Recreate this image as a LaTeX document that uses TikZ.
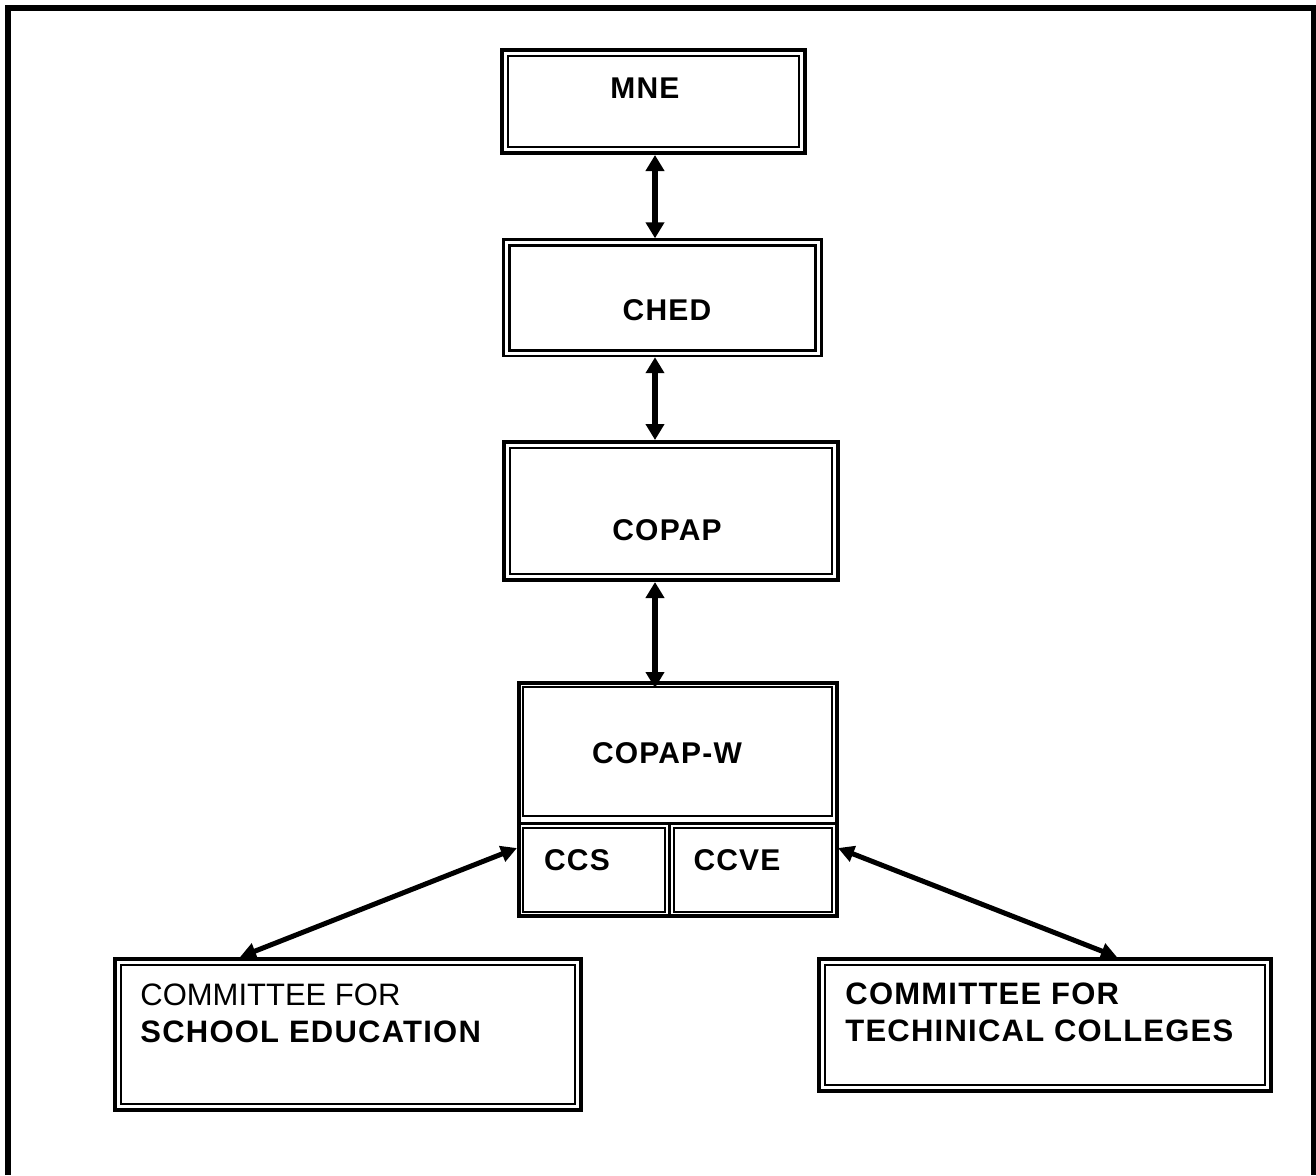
\documentclass[tikz,border=0pt]{standalone}
\usepackage{fontspec}
\setmainfont{Liberation Sans}[BoldFeatures={LetterSpace=4}]
\usetikzlibrary{arrows.meta}
\tikzset{
  thickthin/.style={draw,line width=2pt,inner sep=0pt,
    path picture={\draw[line width=1pt]
      ([shift={(2.9pt,-2.9pt)}]path picture bounding box.north west) rectangle
      ([shift={(-2.9pt,2.9pt)}]path picture bounding box.south east);}},
  thinthick/.style={draw,line width=1.2pt,inner sep=0pt,
    path picture={\draw[line width=1.7pt]
      ([shift={(2.9pt,-2.9pt)}]path picture bounding box.north west) rectangle
      ([shift={(-2.9pt,2.9pt)}]path picture bounding box.south east);}},
  thinbox/.style={draw,line width=1pt,inner sep=0pt},
  framebox/.style={draw,line width=2pt,inner sep=0pt},
  boxtext/.style={font=\fontsize{15}{18}\selectfont\bfseries},
  lowtext/.style={font=\fontsize{15.5}{18.5}\selectfont,anchor=west,align=left,inner sep=0pt},
  link/.style={line width=3.3pt,{Triangle[length=8pt,width=9pt]}-{Triangle[length=8pt,width=9pt]}},
  slant/.style={line width=2.5pt,{Triangle[length=8pt,width=8pt]}-{Triangle[length=8pt,width=8pt]}}
}
\begin{document}
\begin{tikzpicture}[x=0.5pt,y=-0.5pt]
\useasboundingbox (0,0) rectangle (1316,1175);
\draw[line width=3pt] (8,1175) -- (8,8) -- (1313.5,8) -- (1313.5,1175);

% upper chain
\node[thickthin,minimum width=151.5pt,minimum height=51.5pt,
  label={[boxtext,xshift=-4.25pt,yshift=6.75pt]center:MNE}] (mne) at (653.5,101.5) {};
\node[thinthick,minimum width=159pt,minimum height=58.25pt,
  label={[boxtext,xshift=2.25pt,yshift=-6.1pt]center:CHED}] (ched) at (662.5,297.75) {};
\node[thickthin,minimum width=167pt,minimum height=69pt,
  label={[boxtext,xshift=-2pt,yshift=-9.5pt]center:COPAP}] (copap) at (671,511) {};

% COPAP-W with its two committees
\node[framebox,minimum width=159pt,minimum height=116.5pt] (wframe) at (678,799.5) {};
\draw[line width=1.5pt] (519,823) -- (837,823);
\draw[line width=1.5pt] (669.5,823) -- (669.5,916);
\node[thinbox,minimum width=154.5pt,minimum height=64.5pt,
  label={[boxtext,xshift=-5.25pt,yshift=-0.75pt]center:COPAP-W}] (copapw) at (677.5,751.5) {};
\node[thinbox,minimum width=71pt,minimum height=42pt,
  label={[boxtext,xshift=-8.5pt,yshift=5pt]center:CCS}] (ccs) at (594,870) {};
\node[thinbox,minimum width=79pt,minimum height=42pt,
  label={[boxtext,xshift=-8pt,yshift=5pt]center:CCVE}] (ccve) at (753,870) {};

% lower committees
\node[thickthin,minimum width=233pt,minimum height=75.5pt,
  label={[lowtext,xshift=13.5pt,yshift=10.75pt]west:{COMMITTEE FOR\\\textbf{SCHOOL EDUCATION}}}] (school) at (348,1034.5) {};
\node[thickthin,minimum width=226pt,minimum height=66pt,
  label={[lowtext,xshift=14pt,yshift=6.5pt]west:{\bfseries COMMITTEE FOR\\\bfseries TECHINICAL COLLEGES}}] (tech) at (1045,1025) {};

% connectors
\coordinate (spine) at (655,0);
\draw[link] (mne.south -| spine) -- (ched.north -| spine);
\draw[link] (ched.south -| spine) -- (copap.north -| spine);
\draw[link,shorten >=-3.5pt] (copap.south -| spine) -- (wframe.north -| spine);
\draw[slant] ([shift={(-2.5pt,11pt)}]ccs.west) -- ([xshift=-54pt]school.north);
\draw[slant] ([shift={(2.5pt,11pt)}]ccve.east) -- ([xshift=36pt]tech.north);
\end{tikzpicture}
\end{document}
